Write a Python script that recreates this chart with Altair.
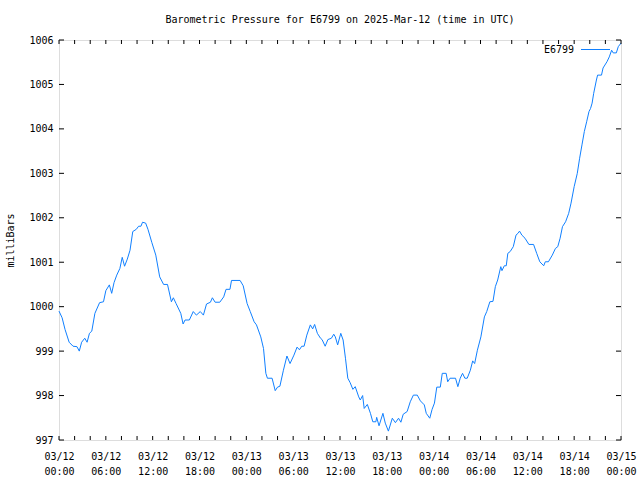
import altair as alt
import pandas as pd

# hours since 2025-03-12 00:00 UTC
hours = [0.0, 0.4, 0.77, 1.3, 1.8, 2.3, 2.6, 2.9, 3.3, 3.6, 3.9, 4.2, 4.6, 5.2, 5.7, 6.0, 6.45, 6.75,
         7.05, 7.4, 7.8, 8.1, 8.4, 8.75, 9.1, 9.45, 9.9, 10.2, 10.5, 10.7, 11.1, 11.4, 11.9, 12.4,
         12.9, 13.4, 13.9, 14.4, 14.65, 15.0, 15.6, 15.9, 16.15, 16.7, 17.2, 17.6, 18.1, 18.5,
         18.9, 19.4, 19.65, 20.0, 20.6, 21.1, 21.4, 21.9, 22.1, 23.2, 23.6, 24.1, 24.5, 25.0,
         25.3, 25.85, 26.2, 26.5, 26.7, 27.3, 27.7, 28.0, 28.3, 28.75, 29.2, 29.6, 30.1, 30.5,
         30.8, 31.1, 31.4, 31.75, 32.2, 32.5, 32.75, 33.1, 33.5, 33.7, 34.1, 34.45, 34.9, 35.2,
         35.4, 35.7, 36.1, 36.4, 36.7, 37.0, 37.3, 37.65, 37.95, 38.4, 38.6, 38.9, 39.1, 39.5,
         39.9, 40.2, 40.6, 40.7, 41.0, 41.5, 41.8, 42.2, 42.7, 43.1, 43.5, 43.8, 44.1, 44.6,
         45.0, 45.4, 45.9, 46.3, 46.8, 47.05, 47.5, 47.8, 48.1, 48.4, 48.85, 49.1, 49.6, 49.8,
         50.1, 50.8, 51.1, 51.4, 51.7, 52.0, 52.3, 52.7, 53.0, 53.25, 53.6, 54.05, 54.5, 54.8,
         55.2, 55.6, 55.9, 56.2, 56.6, 56.75, 57.05, 57.3, 57.5, 57.8, 58.2, 58.55, 58.8, 59.0,
         59.3, 59.7, 60.2, 60.8, 61.2, 61.6, 62.1, 62.3, 62.7, 63.2, 63.6, 63.9, 64.2, 64.5,
         64.9, 65.3, 65.6, 66.0, 66.4, 66.7, 67.0, 67.3, 67.6, 67.9, 68.1, 68.3, 68.5, 68.85,
         69.0, 69.5, 69.7, 70.2, 70.5, 70.8, 71.0, 71.4, 71.65, 72.0]
pressure = [999.90, 999.75, 999.49, 999.20, 999.11, 999.10, 999.00, 999.20, 999.29, 999.20, 999.40,
            999.45, 999.85, 1000.09, 1000.11, 1000.36, 1000.49, 1000.30, 1000.54, 1000.71, 1000.86,
            1001.11, 1000.91, 1001.07, 1001.27, 1001.69, 1001.74, 1001.81, 1001.81, 1001.90, 1001.88,
            1001.74, 1001.44, 1001.16, 1000.67, 1000.50, 1000.50, 1000.11, 1000.20, 1000.07, 999.85,
            999.61, 999.70, 999.70, 999.89, 999.81, 999.89, 999.81, 1000.06, 1000.10, 1000.20,
            1000.10, 1000.10, 1000.22, 1000.39, 1000.39, 1000.59, 1000.59, 1000.47, 1000.07, 999.89,
            999.66, 999.59, 999.32, 999.06, 998.50, 998.39, 998.39, 998.11, 998.19, 998.21, 998.57,
            998.89, 998.72, 998.91, 999.09, 999.03, 999.11, 999.11, 999.36, 999.59, 999.50, 999.60,
            999.40, 999.29, 999.26, 999.11, 999.26, 999.29, 999.38, 999.32, 999.14, 999.40, 999.25,
            998.84, 998.39, 998.29, 998.14, 998.20, 997.97, 997.90, 998.00, 997.71, 997.80, 997.60,
            997.41, 997.41, 997.51, 997.32, 997.60, 997.38, 997.20, 997.49, 997.39, 997.49, 997.40,
            997.58, 997.64, 997.86, 998.01, 998.01, 997.88, 997.79, 997.60, 997.49, 997.69, 997.83,
            998.19, 998.19, 998.50, 998.50, 998.31, 998.39, 998.39, 998.20, 998.39, 998.50, 998.39,
            998.39, 998.57, 998.78, 998.72, 999.02, 999.32, 999.77, 999.89, 1000.11, 1000.12,
            1000.45, 1000.60, 1000.90, 1000.81, 1000.92, 1000.92, 1001.20, 1001.24, 1001.35,
            1001.61, 1001.65, 1001.70, 1001.61, 1001.54, 1001.40, 1001.40, 1001.20, 1001.01,
            1000.92, 1001.01, 1001.01, 1001.16, 1001.31, 1001.35, 1001.54, 1001.80, 1001.91,
            1002.10, 1002.33, 1002.70, 1003.00, 1003.34, 1003.64, 1003.94, 1004.16, 1004.39,
            1004.46, 1004.58, 1004.80, 1005.10, 1005.21, 1005.21, 1005.37, 1005.51, 1005.62,
            1005.77, 1005.71, 1005.71, 1005.85, 1005.93]

x_label_hours = [0, 6, 12, 18, 24, 30, 36, 42, 48, 54, 60, 66, 72]
x_tick_hours = list(range(0, 73, 2))
y_ticks = [997, 998, 999, 1000, 1001, 1002, 1003, 1004, 1005, 1006]
series_name = "E6799"
title_text = "Barometric Pressure for E6799 on 2025-Mar-12 (time in UTC)"

FONT = "DejaVu Sans Mono"
W, H = 562, 400
COLOR = "#1080ff"

df = pd.DataFrame({"h": hours, "p": pressure})
xt = pd.DataFrame({"h": x_tick_hours})
yt = pd.DataFrame({"p": y_ticks})
leg = pd.DataFrame({"name": [series_name]})

xs = alt.Scale(domain=[0, 72], nice=False, zero=False)
ys = alt.Scale(domain=[997, 1006], nice=False, zero=False)

label_expr = ("['03/' + (12 + floor(datum.value/24)), "
              "(datum.value % 24 < 10 ? '0' : '') + (datum.value % 24) + ':00']")

x_axis = alt.Axis(values=x_label_hours, labelExpr=label_expr, ticks=False,
                  domain=False, grid=False, title=None, labelFont=FONT,
                  labelFontSize=10, labelColor="black", labelPadding=11,
                  labelLineHeight=15, labelBaseline="top", labelFlush=False,
                  labelOverlap=False, labelBound=False)
y_axis = alt.Axis(values=y_ticks, format="d", ticks=False, domain=False, grid=False,
                  title="milliBars", labelFont=FONT, labelFontSize=10,
                  labelColor="black", labelPadding=6, labelFlush=False,
                  labelOverlap=False, labelBound=False, titleFont=FONT,
                  titleFontSize=10, titleFontWeight="normal",
                  titleColor="black", titleX=-49, titleY=200,
                  titleAngle=-90, titleBaseline="middle", titleAlign="center")

line = alt.Chart(df).mark_line(color=COLOR, strokeWidth=1).encode(
    x=alt.X("h:Q", scale=xs, axis=x_axis),
    y=alt.Y("p:Q", scale=ys, axis=y_axis),
)

tick_len = 4
xb = alt.Chart(xt).mark_rule(color="black", strokeWidth=1).encode(
    x=alt.X("h:Q", scale=xs, axis=x_axis), y=alt.value(H), y2=alt.value(H - tick_len))
xtop = alt.Chart(xt).mark_rule(color="black", strokeWidth=1).encode(
    x=alt.X("h:Q", scale=xs, axis=x_axis), y=alt.value(0), y2=alt.value(tick_len))
yl = alt.Chart(yt).mark_rule(color="black", strokeWidth=1).encode(
    y=alt.Y("p:Q", scale=ys, axis=y_axis), x=alt.value(0), x2=alt.value(5))
yr = alt.Chart(yt).mark_rule(color="black", strokeWidth=1).encode(
    y=alt.Y("p:Q", scale=ys, axis=y_axis), x=alt.value(W - 5), x2=alt.value(W))

leg_text = alt.Chart(leg).mark_text(font=FONT, fontSize=10, align="right", baseline="middle",
                                     color="black").encode(
    text="name:N", x=alt.value(515), y=alt.value(10))
leg_line = alt.Chart(leg).mark_rule(color=COLOR, strokeWidth=1).encode(
    x=alt.value(522), x2=alt.value(551), y=alt.value(9.5))

chart = alt.layer(line, xb, xtop, yl, yr, leg_text, leg_line).properties(
    width=W, height=H,
    title=alt.TitleParams(title_text, font=FONT, fontSize=10, fontWeight="normal", color="black",
                          anchor="middle", baseline="alphabetic", offset=2),
    autosize=alt.AutoSizeParams(type="none"),
    padding={"left": 59, "top": 40, "right": 19, "bottom": 40},
).configure_view(stroke="black", strokeWidth=1).configure(background="white")

chart.save("out.html", embed_options={"renderer": "svg", "actions": False})
